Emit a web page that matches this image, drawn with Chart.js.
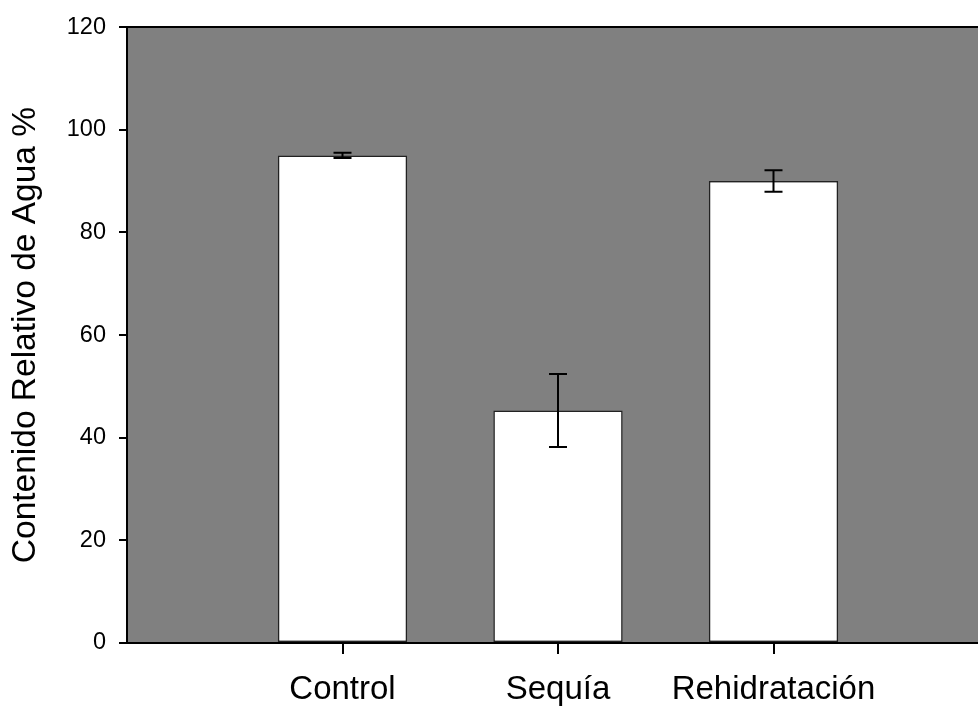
<!DOCTYPE html>
<html lang="es">
<head>
  <meta charset="UTF-8">
  <title>Contenido Relativo de Agua</title>
  <style>
    html, body { margin: 0; padding: 0; background: #fff; overflow: hidden; }
    #wrap { width: 978px; height: 707px; overflow: hidden; }
    canvas { display: block; }
  </style>
</head>
<body>
  <div id="wrap">
    <canvas id="chart" width="1000" height="707"></canvas>
  </div>
  <script src="https://cdn.jsdelivr.net/npm/chart.js"></script>
  <script>
    // data
    const categories = ['Control', 'Sequía', 'Rehidratación'];
    const means = [95.0, 45.3, 90.0];
    const errors = [0.5, 7.1, 2.1];
    const yTicks = [0, 20, 40, 60, 80, 100, 120];

    // empty slots at both ends so the bars sit at 1/4, 2/4, 3/4 of the axis
    const labels = ['', ...categories, ''];
    const barData = [null, ...means, null];
    const errData = [null, ...errors, null];

    const FONT = "'Liberation Sans', Arial, sans-serif";

    const plotBackground = {
      id: 'plotBackground',
      beforeDraw(chart) {
        const { ctx, chartArea: a } = chart;
        ctx.save();
        ctx.fillStyle = '#808080';
        ctx.fillRect(a.left, a.top, a.right - a.left, a.bottom - a.top);
        ctx.restore();
      },
      afterDraw(chart) {
        const { ctx, chartArea: a } = chart;
        ctx.save();
        ctx.strokeStyle = '#000';
        ctx.lineWidth = 2;
        ctx.beginPath();
        ctx.moveTo(a.left - 1, a.top);
        ctx.lineTo(a.right, a.top);
        ctx.stroke();
        ctx.restore();
      }
    };

    const errorBars = {
      id: 'errorBars',
      afterDatasetsDraw(chart) {
        const { ctx } = chart;
        const y = chart.scales.y;
        const meta = chart.getDatasetMeta(0);
        ctx.save();
        ctx.strokeStyle = '#000';
        ctx.lineWidth = 2;
        meta.data.forEach((bar, i) => {
          const v = barData[i], e = errData[i];
          if (v == null || e == null) return;
          const x = bar.x;
          const top = y.getPixelForValue(v + e);
          const bot = y.getPixelForValue(v - e);
          const cap = 9;
          ctx.beginPath();
          ctx.moveTo(x, top); ctx.lineTo(x, bot);
          ctx.moveTo(x - cap, top); ctx.lineTo(x + cap, top);
          ctx.moveTo(x - cap, bot); ctx.lineTo(x + cap, bot);
          ctx.stroke();
        });
        ctx.restore();
      }
    };

    const ctx = document.getElementById('chart').getContext('2d');
    const chart = new Chart(ctx, {
      type: 'bar',
      data: {
        labels: labels,
        datasets: [{
          data: barData,
          backgroundColor: '#ffffff',
          borderColor: '#222222',
          borderWidth: 1.5,
          borderSkipped: false,
          barPercentage: 0.6,
          categoryPercentage: 1
        }]
      },
      options: {
        responsive: false,
        animation: false,
        layout: { padding: { top: 24, right: 11, left: 0, bottom: 0 } },
        plugins: {
          legend: { display: false },
          tooltip: { enabled: false }
        },
        scales: {
          x: {
            offset: false,
            afterFit: s => { s.height = 64; s.paddingLeft = 0; s.paddingRight = 0; },
            grid: {
              offset: false,
              drawOnChartArea: false,
              tickLength: 11,
              lineWidth: 2,
              color: c => (c.index >= 1 && c.index <= categories.length) ? '#000' : 'rgba(0,0,0,0)'
            },
            border: { display: true, color: '#000', width: 2 },
            ticks: {
              autoSkip: false,
              maxRotation: 0,
              padding: 16,
              color: '#000',
              font: { family: FONT, size: 33 }
            }
          },
          y: {
            min: 0,
            max: 120,
            afterFit: s => { s.width = 127; },
            afterBuildTicks: s => { s.ticks = yTicks.map(v => ({ value: v })); },
            grid: {
              drawOnChartArea: false,
              tickLength: 8,
              lineWidth: 2,
              color: '#000'
            },
            border: { display: true, color: '#000', width: 2 },
            ticks: {
              padding: 13,
              color: '#000',
              font: { family: FONT, size: 23.5 }
            },
            title: {
              display: true,
              text: 'Contenido Relativo de Agua %',
              color: '#000',
              padding: { top: 6, bottom: 0 },
              font: { family: FONT, size: 33.5 }
            }
          }
        }
      },
      plugins: [plotBackground, errorBars]
    });
  </script>
</body>
</html>
